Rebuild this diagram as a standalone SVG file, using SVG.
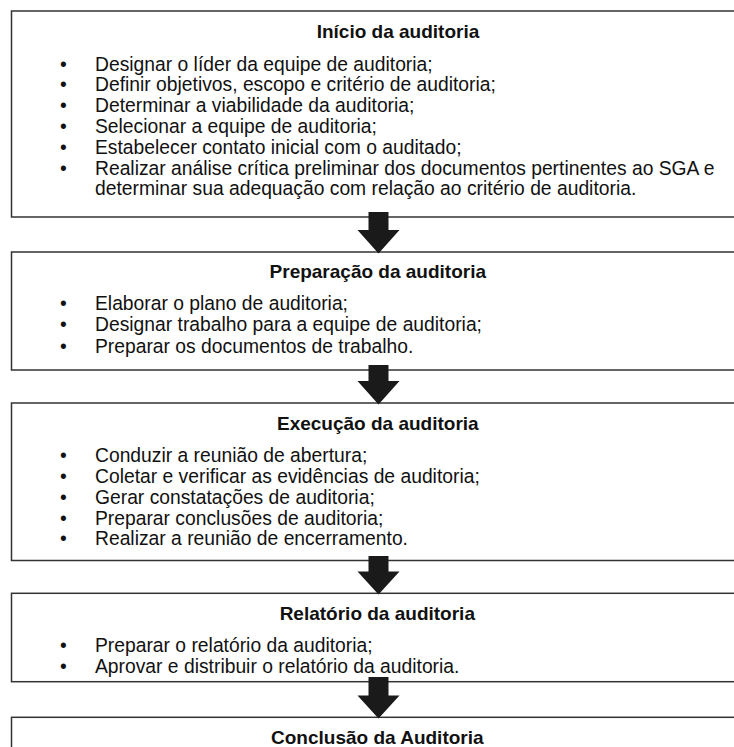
<svg xmlns="http://www.w3.org/2000/svg" width="734" height="747" viewBox="0 0 734 747">
<style>
.box{fill:#fff;stroke:#333;stroke-width:1.5}
.t{font-family:"Liberation Sans",Arial,sans-serif;font-size:19px;font-weight:bold;fill:#111;text-anchor:middle}
.b{font-family:"Liberation Sans",Arial,sans-serif;font-size:19.3px;fill:#111}
.arrow{fill:#1a1a1a}
</style>
<rect x="0" y="0" width="734" height="747" fill="#fff"/>
<g id="node-inicio">
<rect class="box" x="11.5" y="11" width="740" height="206"/>
<text class="t" x="398" y="38">Início da auditoria</text>
<g class="b">
<text x="60" y="70.5">•</text><text x="95" y="70.5">Designar o líder da equipe de auditoria;</text>
<text x="60" y="91.3">•</text><text x="95" y="91.3">Definir objetivos, escopo e critério de auditoria;</text>
<text x="60" y="112.1">•</text><text x="95" y="112.1">Determinar a viabilidade da auditoria;</text>
<text x="60" y="132.9">•</text><text x="95" y="132.9">Selecionar a equipe de auditoria;</text>
<text x="60" y="153.7">•</text><text x="95" y="153.7">Estabelecer contato inicial com o auditado;</text>
<text x="60" y="174.5">•</text><text x="95" y="174.5">Realizar análise crítica preliminar dos documentos pertinentes ao SGA e</text>
<text x="95" y="195.3">determinar sua adequação com relação ao critério de auditoria.</text>
</g>
</g>
<g id="node-preparacao">
<rect class="box" x="11.5" y="252" width="740" height="118"/>
<text class="t" x="377.8" y="278">Preparação da auditoria</text>
<g class="b">
<text x="60" y="309.5">•</text><text x="95" y="309.5">Elaborar o plano de auditoria;</text>
<text x="60" y="331">•</text><text x="95" y="331">Designar trabalho para a equipe de auditoria;</text>
<text x="60" y="352.5">•</text><text x="95" y="352.5">Preparar os documentos de trabalho.</text>
</g>
</g>
<g id="node-execucao">
<rect class="box" x="11.5" y="403" width="740" height="157.5"/>
<text class="t" x="377.8" y="429.5">Execução da auditoria</text>
<g class="b">
<text x="60" y="462.2">•</text><text x="95" y="462.2">Conduzir a reunião de abertura;</text>
<text x="60" y="483">•</text><text x="95" y="483">Coletar e verificar as evidências de auditoria;</text>
<text x="60" y="503.8">•</text><text x="95" y="503.8">Gerar constatações de auditoria;</text>
<text x="60" y="524.6">•</text><text x="95" y="524.6">Preparar conclusões de auditoria;</text>
<text x="60" y="545.4">•</text><text x="95" y="545.4">Realizar a reunião de encerramento.</text>
</g>
</g>
<g id="node-relatorio">
<rect class="box" x="11.5" y="593.3" width="740" height="88.4"/>
<text class="t" x="377.3" y="620">Relatório da auditoria</text>
<g class="b">
<text x="60" y="652.2">•</text><text x="95" y="652.2">Preparar o relatório da auditoria;</text>
<text x="60" y="673">•</text><text x="95" y="673">Aprovar e distribuir o relatório da auditoria.</text>
</g>
</g>
<g id="node-conclusao">
<rect class="box" x="11.5" y="717.3" width="740" height="60"/>
<text class="t" x="377.3" y="743.5">Conclusão da Auditoria</text>
</g>
<g id="connectors">
<polygon class="arrow" points="368.5,212 388.5,212 388.5,230 399.5,230 378.5,253.5 357.5,230 368.5,230"/>
<polygon class="arrow" points="368.5,365 388.5,365 388.5,381 399.5,381 378.5,404.5 357.5,381 368.5,381"/>
<polygon class="arrow" points="368.5,556 388.5,556 388.5,571.5 399.5,571.5 378.5,594.5 357.5,571.5 368.5,571.5"/>
<polygon class="arrow" points="368.5,677 388.5,677 388.5,695.5 399.5,695.5 378.5,718.5 357.5,695.5 368.5,695.5"/>
</g>
</svg>
